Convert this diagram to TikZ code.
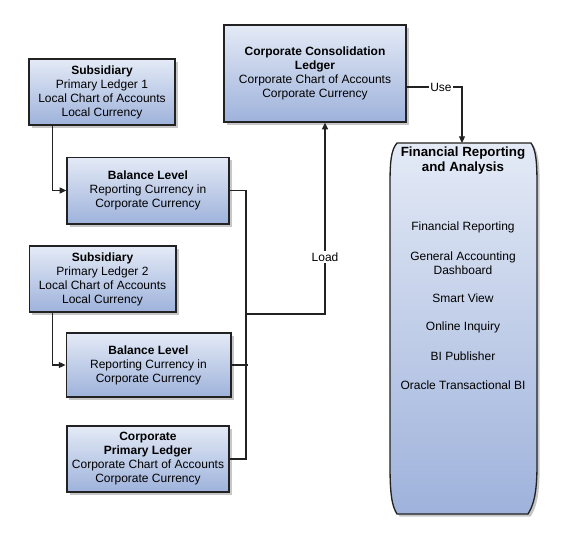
\documentclass[tikz,border=0pt]{standalone}
\usepackage{fontspec}
\setmainfont{Liberation Sans}
\usetikzlibrary{arrows.meta,shadows,calc}
\definecolor{boxtop}{RGB}{228,234,246}
\definecolor{boxbot}{RGB}{158,178,219}
\definecolor{edge}{RGB}{34,34,34}
\begin{document}
\begin{tikzpicture}[x=0.75pt,y=-0.75pt,
  every node/.style={font=\fontsize{9pt}{10.5pt}\selectfont},
  ledger/.style={draw=edge,line width=1pt,top color=boxtop,bottom color=boxbot,
    align=center,inner sep=0pt,
    drop shadow={shadow xshift=2pt,shadow yshift=-2pt,fill=black!22,opacity=1}},
  conn/.style={draw=edge,line width=0.8pt},
  arr/.style={conn,-{Triangle[length=5pt,width=4.5pt]}},
  lbl/.style={fill=white,inner sep=1pt}]
\useasboundingbox (0,0) rectangle (564,543);

\node[ledger,minimum width=109.5pt,minimum height=49.5pt] (sub1) at (102,92)
  {\textbf{Subsidiary}\\Primary Ledger 1\\Local Chart of Accounts\\Local Currency};
\node[ledger,minimum width=121.5pt,minimum height=50pt] (bl1) at (148,190.5)
  {\textbf{Balance Level}\\Reporting Currency in\\Corporate Currency};
\node[ledger,minimum width=110pt,minimum height=49.5pt] (sub2) at (102.5,279)
  {\textbf{Subsidiary}\\Primary Ledger 2\\Local Chart of Accounts\\Local Currency};
\node[ledger,minimum width=123.5pt,minimum height=48pt] (bl2) at (148.5,365)
  {\textbf{Balance Level}\\Reporting Currency in\\Corporate Currency};
\node[ledger,minimum width=121.5pt,minimum height=49.5pt] (cpl) at (148,459)
  {\textbf{Corporate}\\\textbf{Primary Ledger}\\Corporate Chart of Accounts\\Corporate Currency};
\node[ledger,minimum width=136.5pt,minimum height=72.75pt] (ccl) at (315,73.5)
  {\textbf{Corporate Consolidation}\\\textbf{Ledger}\\Corporate Chart of Accounts\\Corporate Currency};

% Financial Reporting and Analysis shape
\path[draw=edge,line width=1pt,top color=boxtop,bottom color=boxbot,
    drop shadow={shadow xshift=2pt,shadow yshift=-2pt,fill=black!22,opacity=1}]
  (397,143) -- (531,143)
  .. controls (536,150) and (537,162) .. (537,185)
  -- (537,465)
  .. controls (537,495) and (533,506) .. (528,514)
  -- (397,514)
  .. controls (392,506) and (390,495) .. (390,465)
  -- (390,185)
  .. controls (390,162) and (391,150) .. (397,143) -- cycle;
\coordinate (fra) at (462,143);
\node[align=center,font=\fontsize{10pt}{11.25pt}\selectfont\bfseries] (fratitle) at (463,160.5)
  {Financial Reporting\\and Analysis};
\node (fr1) at (463,227) {Financial Reporting};
\node[align=center] (fr2) at (463,263) {General Accounting\\Dashboard};
\node (fr3) at (463,298) {Smart View};
\node (fr4) at (463,327) {Online Inquiry};
\node (fr5) at (463,356) {BI Publisher};
\node (fr6) at (463,385) {Oracle Transactional BI};

% connectors
\coordinate (busx) at (246,0);
\draw[arr] ($(sub1.south west)+(24,0)$) |- (bl1.west);
\draw[arr] ($(sub2.south west)+(24,0)$) |- (bl2.west);
\draw[conn] (bl1.east) -- (bl1.east -| busx) -- (cpl.east -| busx) -- (cpl.east);
\draw[conn] (bl2.east) -- ($(bl2.east -| busx)+(2,0)$);
\coordinate (lj) at (246,314);
\coordinate (lx) at (325,314);
\draw[arr] (lj) -- (lx) -- (lx |- ccl.south);
\node[lbl] (load) at (325,257) {Load};
\coordinate (ux) at (462,87);
\draw[arr] (ccl.east |- ux) -- (ux) -- (fra);
\node[lbl] (use) at (441,87) {Use};
\end{tikzpicture}
\end{document}
